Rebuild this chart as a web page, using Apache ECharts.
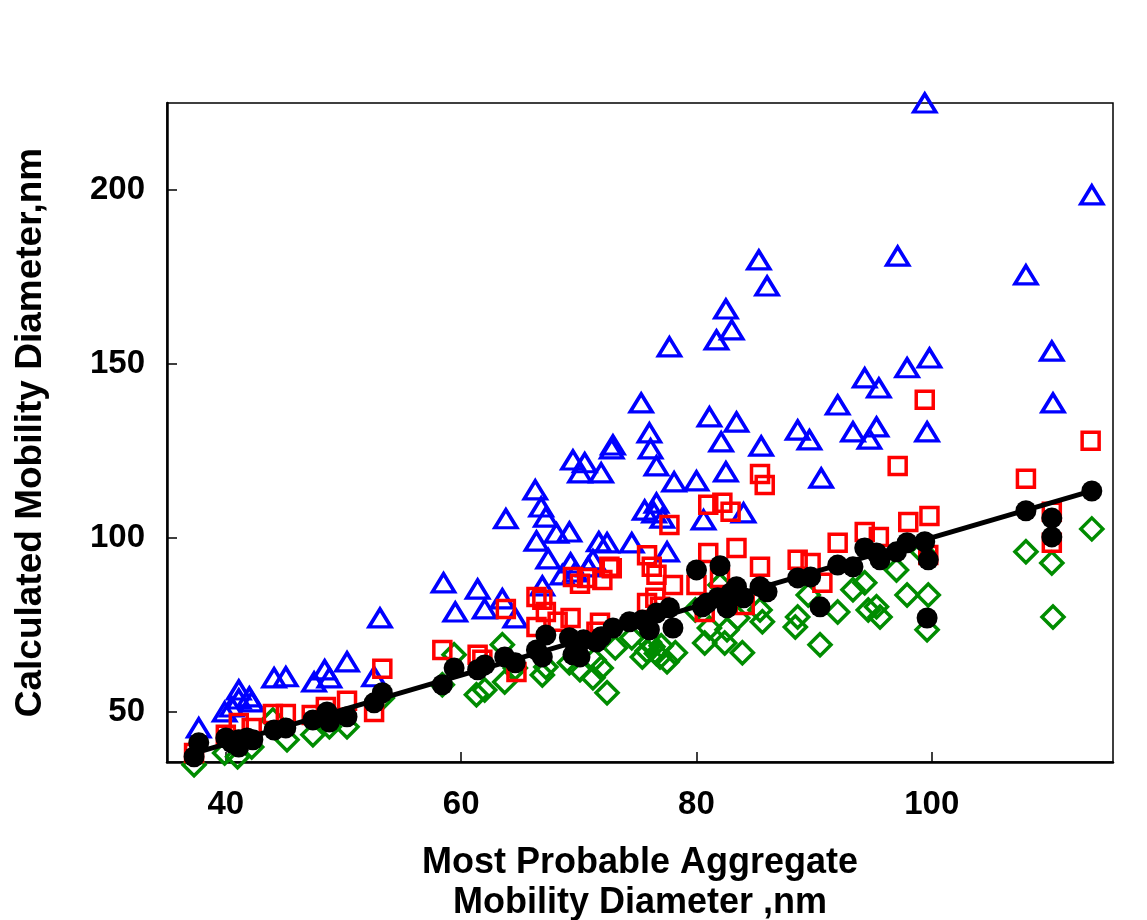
<!DOCTYPE html>
<html>
<head>
<meta charset="utf-8">
<script src="https://cdn.jsdelivr.net/npm/echarts@6/dist/echarts.min.js"></script>
<style>html,body{margin:0;padding:0;background:#fff;}#c{width:1147px;height:920px;}</style>
</head>
<body>
<div id="c"></div>
<script>
const xTicks = [40, 60, 80, 100];
const yTicks = [50, 100, 150, 200];

const blueTriangles = [
[37.7,45.4],[39.9,50.0],[40.5,51.4],[41.1,56.3],[41.1,53.7],[42.0,54.3],[42.2,52.9],[44.1,59.8],[45.1,60.1],[47.5,58.6],[48.4,62.1],[48.8,59.8],[50.3,64.4],[52.6,60.1],[53.1,77.0],
[58.5,87.1],[61.4,85.3],[63.5,82.5],[59.5,78.7],[62.0,79.6],[64.6,77.0],[66.9,86.2],[68.6,89.4],[69.7,90.2],
[66.4,99.1],[67.4,94.0],[68.1,101.4],[69.2,101.7],[69.3,92.8],[70.8,91.7],[71.2,93.7],[71.7,98.9],[72.4,98.6],[74.5,98.6],[77.5,96.0],
[63.8,105.5],[66.3,113.8],[66.8,108.9],[67.2,106.0],[69.5,122.4],[70.5,121.6],[70.1,118.7],[71.9,118.7],[72.9,126.7],[72.8,125.6],[75.3,138.8],[76.0,130.2],[76.1,125.6],[76.6,120.7],[75.6,108.0],[76.6,110.0],[76.4,107.2],[77.1,105.7],[78.1,116.1],[80.0,116.4],[80.6,105.2],[77.7,154.9],
[81.1,134.8],[81.7,156.9],[82.5,165.8],[83.0,159.8],[82.1,127.6],[83.4,133.3],[82.5,119.0],[84.0,107.2],[85.5,126.4],[85.3,179.9],[86.0,172.4],[88.6,131.0],[89.6,128.2],[90.6,117.2],[92.0,138.2],[93.3,130.5],[94.7,128.4],[95.3,131.9],[94.3,146.0],[95.5,143.1],[97.1,181.0],[97.9,148.9],[99.8,151.7],[99.6,130.5],[99.4,225.0],
[108.0,175.6],[110.2,153.7],[110.3,138.8],[113.6,198.6]
];

const redSquares = [
[37.3,38.2],[40.0,43.4],[41.1,46.8],[42.2,45.4],[44.0,49.4],[45.1,49.4],[47.3,49.1],[48.5,51.4],[50.3,53.2],[52.6,50.0],[53.3,62.4],
[58.4,67.8],[61.4,66.4],[61.8,65.0],[63.8,79.6],[64.7,61.5],[66.4,83.0],[66.9,82.2],[67.2,78.7],[66.4,74.4],[68.2,75.9],[69.3,77.0],[69.5,88.8],[70.1,86.8],[70.7,88.5],[72.0,87.9],[72.6,91.7],[72.8,91.3],[71.8,75.6],[71.5,73.0],[76.2,91.7],[75.8,95.0],[76.6,89.4],[78.0,86.5],[75.8,81.3],[76.5,82.8],[76.9,80.2],[77.7,103.7],
[80.0,86.5],[81.0,95.7],[83.4,97.1],[82.0,88.5],[84.1,80.7],[80.7,78.7],[81.0,109.5],[82.2,110.1],[82.9,107.5],[85.4,118.4],[85.8,115.2],[85.4,91.7],[88.6,93.7],[89.7,92.8],[90.7,87.1],[92.0,98.6],[94.3,101.7],[95.5,100.3],[97.1,120.7],[98.0,104.6],[99.8,106.3],[99.4,139.7],[99.7,95.1],
[108.0,117.0],[110.2,107.5],[110.2,98.6],[113.5,127.9]
];

const greenDiamonds = [
[37.3,34.8],[39.9,38.2],[41.0,37.1],[42.2,39.9],[44.0,47.7],[45.2,42.0],[47.4,43.4],[48.8,45.7],[50.3,45.7],[53.3,54.0],
[58.4,57.8],[59.4,66.4],[61.3,54.9],[62.0,56.3],[63.7,58.6],[63.5,69.3],[64.6,62.6],[66.9,60.6],[67.2,62.9],[69.2,64.1],[70.1,62.1],[71.3,64.9],[71.2,59.8],[71.9,62.6],[72.4,55.5],[73.1,68.4],[74.5,71.3],[75.4,65.8],[76.3,68.7],[76.9,65.8],[77.5,64.4],[78.2,67.0],[76.0,70.0],[77.0,69.0],[75.8,67.5],[76.6,66.8],
[79.9,79.3],[80.7,69.8],[81.1,74.1],[82.0,86.5],[82.6,73.6],[82.4,69.8],[83.5,77.0],[85.4,79.3],[85.6,75.9],[83.9,67.0],[89.5,83.6],[88.6,77.3],[88.4,74.4],[90.5,69.3],[92.0,78.7],[93.3,85.1],[94.3,87.1],[94.6,79.3],[95.3,80.2],[95.6,77.3],[97.0,90.8],[97.9,83.6],[99.7,83.6],[99.6,73.6],[99.2,96.0],
[108.0,96.0],[110.2,92.8],[110.3,77.3],[113.6,102.6]
];

const blackCircles = [
[37.3,37.1],[37.7,41.1],[40.0,42.5],[40.5,41.1],[41.1,39.9],[41.1,42.0],[41.8,42.5],[42.3,42.0],[44.1,44.8],[45.1,45.4],[47.4,47.7],[48.6,50.0],[48.8,47.1],[50.3,48.6],[52.6,52.6],[53.3,55.5],
[58.4,57.8],[59.4,62.6],[61.4,62.1],[62.0,63.5],[63.7,65.8],[64.6,64.1],[66.4,67.8],[66.9,65.8],[67.2,72.1],[69.2,71.3],[69.5,66.4],[70.1,65.8],[70.4,70.7],[71.5,70.1],[71.9,71.6],[72.9,74.1],[74.3,75.9],[75.4,76.4],[76.0,73.6],[76.6,78.4],[77.7,79.9],[78.0,74.1],
[80.0,90.8],[80.5,80.2],[80.9,81.3],[81.8,82.8],[82.0,92.0],[82.6,79.9],[82.9,84.2],[83.4,86.0],[84.0,82.8],[85.4,86.0],[86.0,84.5],[88.6,88.5],[89.7,88.8],[90.5,80.2],[92.0,92.2],[93.3,91.7],[94.3,97.1],[95.3,95.7],[95.6,93.7],[97.0,96.0],[97.9,98.6],[99.4,98.9],[99.7,93.7],[99.6,77.0],
[108.0,107.8],[110.2,105.7],[110.2,100.3],[113.6,113.5]
];

const fitLine = [[37.7,38.5],[113.6,113.5]];

const FONT = "'Liberation Sans', Arial, sans-serif";
const chart = echarts.init(document.getElementById('c'), null, {renderer:'canvas'});
const hollow = (c) => ({color:'rgba(0,0,0,0)', borderColor:c, borderWidth:3.5, opacity:1});
chart.setOption({
  animation:false,
  backgroundColor:'#fff',
  grid:{left:167, right:34, top:103, bottom:158, outerBoundsMode:'none', containLabel:false, show:true, borderColor:'#000', borderWidth:1.5, backgroundColor:'transparent'},
  xAxis:{
    type:'value', min:35, max:115.4,
    axisLine:{show:true, onZero:false, lineStyle:{color:'#000', width:2.5}},
    axisTick:{show:true, inside:true, length:10, customValues:xTicks, lineStyle:{color:'#000', width:1.5}},
    axisLabel:{customValues:xTicks, fontSize:33, fontWeight:'bold', color:'#000', fontFamily:FONT, margin:26},
    splitLine:{show:false},
    name:'Most Probable Aggregate\nMobility Diameter ,nm',
    nameLocation:'middle', nameGap:81,
    nameTextStyle:{fontSize:36, fontWeight:'bold', color:'#000', fontFamily:FONT, lineHeight:40}
  },
  yAxis:{
    type:'value', min:35.6, max:225,
    axisLine:{show:true, onZero:false, lineStyle:{color:'#000', width:2.5}},
    axisTick:{show:true, inside:true, length:10, customValues:yTicks, lineStyle:{color:'#000', width:1.5}},
    axisLabel:{customValues:yTicks, fontSize:33, fontWeight:'bold', color:'#000', fontFamily:FONT, margin:22},
    splitLine:{show:false},
    name:'Calculated Mobility Diameter,nm',
    nameLocation:'middle', nameGap:118,
    nameTextStyle:{fontSize:37, fontWeight:'bold', color:'#000', fontFamily:FONT}
  },
  series:[
    {type:'scatter', name:'blue', data:blueTriangles, symbol:'triangle', symbolSize:[22,18], clip:false, itemStyle:hollow('#0000ff'), z:2},
    {type:'scatter', name:'green', data:greenDiamonds, symbol:'diamond', symbolSize:[22,22], clip:false, itemStyle:hollow('#008c00'), z:3},
    {type:'scatter', name:'red', data:redSquares, symbol:'rect', symbolSize:[17,17], clip:false, itemStyle:hollow('#ff0000'), z:4},
    {type:'line', name:'fit', data:fitLine, symbol:'none', lineStyle:{color:'#000', width:5}, z:5},
    {type:'scatter', name:'black', data:blackCircles, symbol:'circle', symbolSize:21, clip:false, itemStyle:{color:'#000', opacity:1}, z:6}
  ]
});
</script>
</body>
</html>
